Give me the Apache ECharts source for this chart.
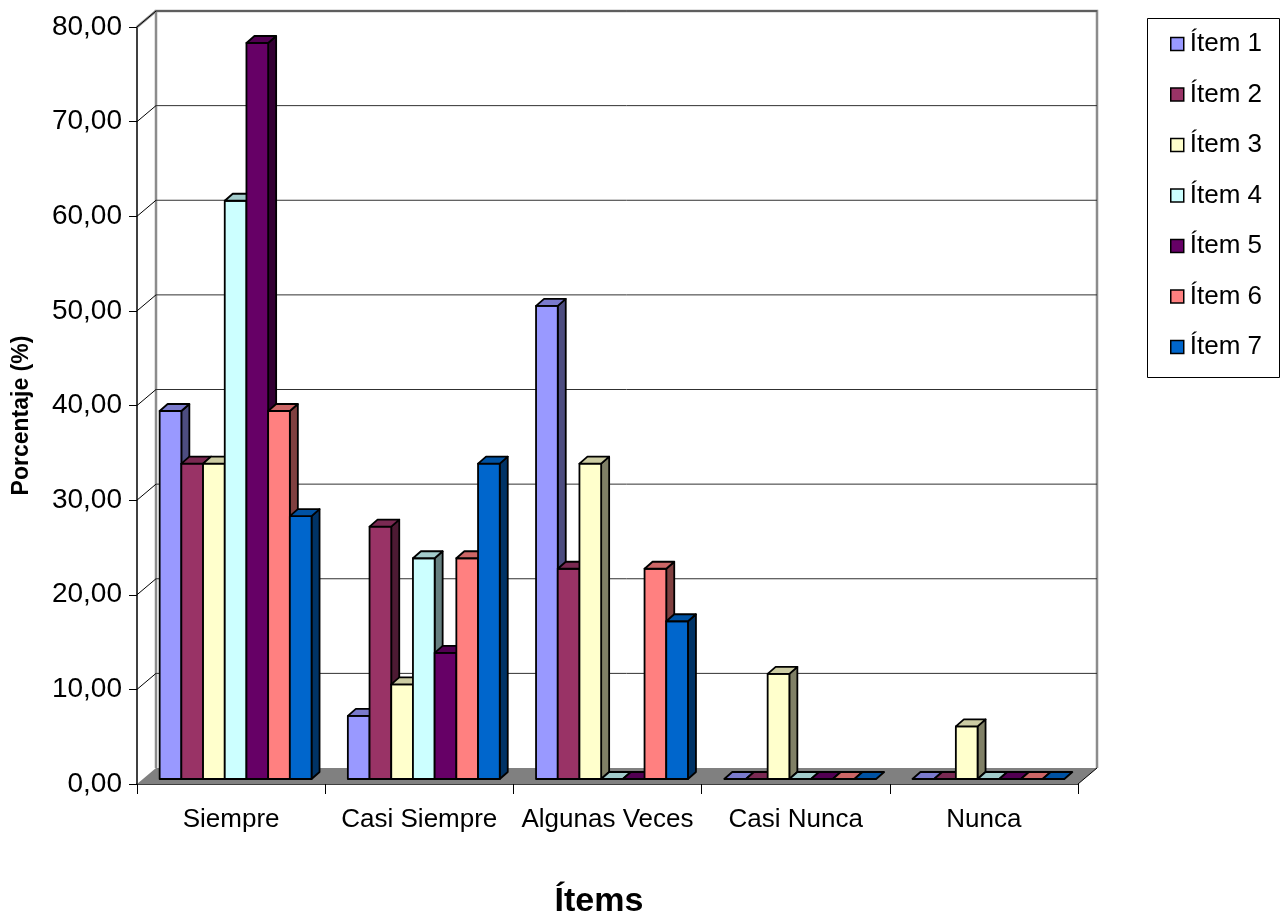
<!DOCTYPE html>
<html>
<head>
<meta charset="utf-8">
<script src="https://cdn.jsdelivr.net/npm/echarts@6/dist/echarts.min.js"></script>
<style>
  html, body { margin: 0; padding: 0; background: #fff; }
  #chart { width: 1287px; height: 921px; }
</style>
</head>
<body>
<div id="chart"></div>
<script>
// Response categories along the horizontal axis
const categories = ['Siempre', 'Casi Siempre', 'Algunas Veces', 'Casi Nunca', 'Nunca'];
// Series names
const itemNames = ['Ítem 1', 'Ítem 2', 'Ítem 3', 'Ítem 4', 'Ítem 5', 'Ítem 6', 'Ítem 7'];
// Percentages per item, one value per category
const item1 = [38.89, 6.67, 50.00, 0, 0];
const item2 = [33.33, 26.67, 22.22, 0, 0];
const item3 = [33.33, 10.00, 33.33, 11.11, 5.56];
const item4 = [61.11, 23.33, 0, 0, 0];
const item5 = [77.78, 13.33, 0, 0, 0];
const item6 = [38.89, 23.33, 22.22, 0, 0];
const item7 = [27.78, 33.33, 16.67, 0, 0];
// Value axis ticks
const yTicks = [0, 10, 20, 30, 40, 50, 60, 70, 80];

const itemValues = [item1, item2, item3, item4, item5, item6, item7];
const itemColors = ['#9999FF', '#993366', '#FFFFCC', '#CCFFFF', '#660066', '#FF8080', '#0066CC'];

// Pseudo-3D geometry (pixels)
const WALL_DX = 19, WALL_DY = -16;   // depth of the back wall
const FRONT_DX = 4.5, FRONT_DY = -5; // bar front face offset from the axis plane
const BAR_DX = 8, BAR_DY = -7;       // depth of each bar
const BAR_FRAC = 0.1153;             // bar width as a share of the category band

function shade(hex, f) {
  const n = parseInt(hex.slice(1), 16);
  const r = Math.round(((n >> 16) & 255) * f);
  const g = Math.round(((n >> 8) & 255) * f);
  const b = Math.round((n & 255) * f);
  return 'rgb(' + r + ',' + g + ',' + b + ')';
}

// Back wall, side wall, floor and gridlines
function renderWalls(params, api) {
  const cs = params.coordSys;
  const v = api.value(1);
  const y = api.coord([0, v])[1];
  const xl = cs.x, xr = cs.x + cs.width;
  const children = [];
  if (v === 0) {
    const yTop = cs.y;
    // floor
    children.push({
      type: 'polygon',
      shape: { points: [[xl, y], [xr, y], [xr + WALL_DX, y + WALL_DY], [xl + WALL_DX, y + WALL_DY]] },
      style: { fill: '#808080', stroke: null }
    });
    // back wall outline
    children.push({
      type: 'polyline',
      shape: { points: [[xl + WALL_DX, y + WALL_DY], [xl + WALL_DX, yTop + WALL_DY], [xr + WALL_DX, yTop + WALL_DY], [xr + WALL_DX, y + WALL_DY]] },
      style: { fill: null, stroke: '#8c8c8c', lineWidth: 2.5 }
    });
    // top edge of the side wall
    children.push({
      type: 'line',
      shape: { x1: xl, y1: yTop, x2: xl + WALL_DX, y2: yTop + WALL_DY },
      style: { stroke: '#8c8c8c', lineWidth: 2.5 }
    });
    // right edge of the floor
    children.push({
      type: 'line',
      shape: { x1: xr, y1: y, x2: xr + WALL_DX, y2: y + WALL_DY },
      style: { stroke: '#000', lineWidth: 1 }
    });
  } else {
    children.push({
      type: 'line',
      shape: { x1: xl + WALL_DX, y1: y + WALL_DY, x2: xr + WALL_DX, y2: y + WALL_DY },
      style: { stroke: '#303030', lineWidth: 1 }
    });
    children.push({
      type: 'line',
      shape: { x1: xl, y1: y, x2: xl + WALL_DX, y2: y + WALL_DY },
      style: { stroke: '#000', lineWidth: 1 }
    });
  }
  return { type: 'group', children: children };
}

function makeBarRenderer(k) {
  const front = itemColors[k];
  const topC = shade(front, 0.8);
  const sideC = shade(front, 0.5);
  return function (params, api) {
    const cat = api.value(0);
    const val = api.value(1);
    const base = api.coord([cat, 0]);
    const top = api.coord([cat, val]);
    const band = api.size([1, 0])[0];
    const w = band * BAR_FRAC;
    const x0 = base[0] - 3.5 * w + k * w + FRONT_DX;
    const x1 = x0 + w;
    const yb = base[1] + FRONT_DY;
    const yt = top[1] + FRONT_DY;
    const st = { stroke: '#000', lineWidth: 1.8, lineJoin: 'round' };
    const children = [];
    if (yb - yt > 0.5) {
      children.push({
        type: 'polygon',
        shape: { points: [[x1, yt], [x1 + BAR_DX, yt + BAR_DY], [x1 + BAR_DX, yb + BAR_DY], [x1, yb]] },
        style: Object.assign({ fill: sideC }, st)
      });
      children.push({
        type: 'rect',
        shape: { x: x0, y: yt, width: w, height: yb - yt },
        style: Object.assign({ fill: front }, st)
      });
    }
    children.push({
      type: 'polygon',
      shape: { points: [[x0, yt], [x1, yt], [x1 + BAR_DX, yt + BAR_DY], [x0 + BAR_DX, yt + BAR_DY]] },
      style: Object.assign({ fill: topC }, st)
    });
    return { type: 'group', children: children };
  };
}

const series = [{
  type: 'custom',
  name: 'walls',
  renderItem: renderWalls,
  data: yTicks.map(v => [0, v]),
  encode: { x: 0, y: 1 },
  silent: true,
  z: 1
}];
itemValues.forEach((vals, k) => {
  series.push({
    type: 'custom',
    name: itemNames[k],
    renderItem: makeBarRenderer(k),
    data: vals.map((v, i) => [i, v]),
    encode: { x: 0, y: 1 },
    itemStyle: { color: itemColors[k], borderColor: '#000', borderWidth: 1.5 },
    z: 2 + k
  });
});

const chart = echarts.init(document.getElementById('chart'), null, { renderer: 'canvas' });
chart.setOption({
  animation: false,
  backgroundColor: '#fff',
  grid: { left: 137, top: 27, width: 941, height: 757, outerBoundsMode: 'none', containLabel: false },
  xAxis: {
    type: 'category',
    data: categories,
    boundaryGap: true,
    name: 'Ítems',
    nameLocation: 'middle',
    nameGap: 101,
    nameTextStyle: { fontFamily: 'Liberation Sans', fontWeight: 'bold', fontSize: 34, color: '#000', padding: [0, 17, 0, 0] },
    axisLine: { lineStyle: { color: '#000', width: 1.5 } },
    axisTick: { show: true, length: 10, lineStyle: { color: '#000', width: 1 } },
    axisLabel: { interval: 0, margin: 23, fontFamily: 'Liberation Sans', fontSize: 26, color: '#000' },
    splitLine: { show: false }
  },
  yAxis: {
    type: 'value',
    min: 0,
    max: 80,
    interval: 10,
    name: 'Porcentaje (%)',
    nameLocation: 'middle',
    nameRotate: 90,
    nameGap: 104,
    nameTextStyle: { fontFamily: 'Liberation Sans', fontWeight: 'bold', fontSize: 23, color: '#000', padding: [0, 20, 0, 0] },
    axisLine: { show: true, lineStyle: { color: '#000', width: 1.5 } },
    axisTick: { show: true, length: 8, lineStyle: { color: '#000', width: 1 } },
    axisLabel: {
      margin: 15,
      fontFamily: 'Liberation Sans',
      fontSize: 28,
      color: '#000',
      formatter: v => v.toFixed(2).replace('.', ',')
    },
    splitLine: { show: false }
  },
  legend: {
    data: itemNames,
    orient: 'vertical',
    left: 1170,
    top: 31,
    padding: 0,
    icon: 'rect',
    itemWidth: 13,
    itemHeight: 13,
    itemGap: 24.5,
    itemStyle: { borderColor: '#000', borderWidth: 1.5 },
    textStyle: { fontFamily: 'Liberation Sans', fontSize: 26, lineHeight: 26, color: '#000', padding: [0, 0, 0, 1] }
  },
  graphic: [{
    type: 'rect',
    shape: { x: 1147.5, y: 18.5, width: 132, height: 359 },
    style: { fill: null, stroke: '#000', lineWidth: 1 },
    z: 0
  }],
  series: series
});
</script>
</body>
</html>
